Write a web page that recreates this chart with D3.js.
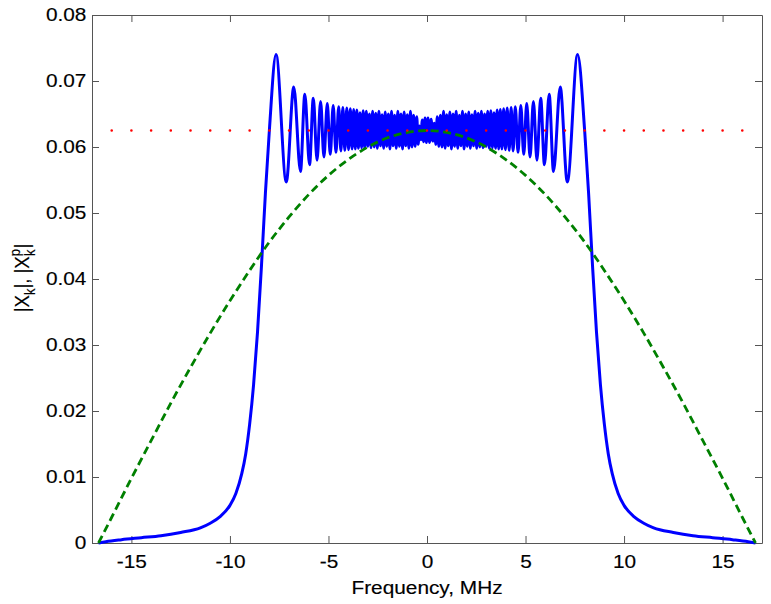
<!DOCTYPE html>
<html>
<head>
<meta charset="utf-8">
<script src="https://cdn.jsdelivr.net/npm/d3@7"></script>
<style>
  body { margin: 0; background: #fff; }
  svg { display: block; }
  text { font-family: "Liberation Sans", Arial, sans-serif; stroke: #000; stroke-width: 0.15px; }
</style>
</head>
<body>
<svg id="svg" width="771" height="604"></svg>
<script>
const xTicks = [-15, -10, -5, 0, 5, 10, 15];
const yTicks = [0, 0.01, 0.02, 0.03, 0.04, 0.05, 0.06, 0.07, 0.08];

// |X_k| (blue): tails, edges, ripple peaks/troughs
const blueFreq = [
  -16.67, -16.3, -15.5, -14.5, -13.5, -12.5, -11.5, -11.0, -10.5, -10.0,
  -9.7, -9.4, -9.2, -9.0, -8.8, -8.6, -8.4, -8.2, -8.0, -7.66,
  -7.14, -6.76, -6.42, -6.20, -5.96, -5.77, -5.58, -5.40, -5.23, -5.06,
  -4.91, -4.76, -4.62,
  -4.48, -4.37, -4.27, -4.17, -4.07, -3.98, -3.89, -3.80, -3.72, -3.64,
  -3.56, -3.48, -3.40, -3.32, -3.24, -3.16, -3.08, -3.00, -2.92, -2.84,
  -2.76, -2.68, -2.60, -2.52, -2.44, -2.36, -2.28, -2.20, -2.12, -2.04,
  -1.96, -1.88, -1.80, -1.72, -1.64, -1.56, -1.48, -1.40, -1.32, -1.24,
  -1.16, -1.08, -1.00, -0.92, -0.84, -0.76, -0.68, -0.60, -0.52, -0.45,
  -0.38, -0.31, -0.24, -0.17, -0.10, -0.03, 0.05, 0.13, 0.21, 0.29, 0.37,
  0.45, 0.52, 0.60, 0.68, 0.76, 0.84, 0.92, 1.00, 1.08, 1.16,
  1.24, 1.32, 1.40, 1.48, 1.56, 1.64, 1.72, 1.80, 1.88, 1.96,
  2.04, 2.12, 2.20, 2.28, 2.36, 2.44, 2.52, 2.60, 2.68, 2.76,
  2.84, 2.92, 3.00, 3.08, 3.16, 3.24, 3.32, 3.40, 3.48, 3.56,
  3.64, 3.72, 3.80, 3.89, 3.98, 4.07, 4.17, 4.27, 4.37, 4.48,
  4.62, 4.76, 4.91, 5.06, 5.23, 5.40, 5.58, 5.77, 5.96, 6.20,
  6.42, 6.76, 7.12, 7.64, 8.0, 8.2, 8.4, 8.6, 8.8, 9.0,
  9.2, 9.4, 9.7, 10.0, 10.5, 11.0, 11.5, 12.5, 13.5, 14.5,
  15.5, 16.3, 16.67
];
const blueMag = [
  0, 0.0002, 0.0005, 0.0008, 0.0011, 0.0016, 0.0023, 0.0030, 0.0040, 0.0057,
  0.0075, 0.0105, 0.0135, 0.0180, 0.0240, 0.0320, 0.0420, 0.0530, 0.0625, 0.0740,
  0.0547, 0.0691, 0.0563, 0.0680, 0.0573, 0.0674, 0.0580, 0.0669, 0.0585, 0.0666,
  0.0589, 0.0663, 0.0592,
  0.0661, 0.0594, 0.0660, 0.0595, 0.0659, 0.0596, 0.0658, 0.0597, 0.0657, 0.0597,
  0.0656, 0.0598, 0.0652, 0.0599, 0.0655, 0.0598, 0.0654, 0.0601, 0.0650, 0.0599,
  0.0654, 0.0600, 0.0651, 0.0598, 0.0654, 0.0602, 0.0649, 0.0598, 0.0653, 0.0601,
  0.0650, 0.0597, 0.0654, 0.0602, 0.0648, 0.0598, 0.0654, 0.0601, 0.0650, 0.0597,
  0.0653, 0.0602, 0.0649, 0.0598, 0.0654, 0.0600, 0.0648, 0.0601, 0.0646, 0.0604,
  0.0632, 0.0611, 0.0641, 0.0608, 0.0644, 0.0607, 0.0644, 0.0607, 0.0642, 0.0609, 0.0636,
  0.0604, 0.0646, 0.0601, 0.0648, 0.0600, 0.0654, 0.0598, 0.0649, 0.0602, 0.0653,
  0.0597, 0.0650, 0.0601, 0.0654, 0.0598, 0.0648, 0.0602, 0.0654, 0.0597, 0.0650,
  0.0601, 0.0653, 0.0598, 0.0649, 0.0602, 0.0654, 0.0598, 0.0651, 0.0600, 0.0654,
  0.0599, 0.0650, 0.0601, 0.0654, 0.0598, 0.0655, 0.0599, 0.0652, 0.0598, 0.0656,
  0.0597, 0.0657, 0.0597, 0.0658, 0.0596, 0.0659, 0.0595, 0.0660, 0.0594, 0.0661,
  0.0592, 0.0663, 0.0589, 0.0666, 0.0585, 0.0669, 0.0580, 0.0674, 0.0573, 0.0680,
  0.0563, 0.0691, 0.0547, 0.0740, 0.0625, 0.0530, 0.0420, 0.0320, 0.0240, 0.0180,
  0.0135, 0.0105, 0.0075, 0.0057, 0.0040, 0.0030, 0.0023, 0.0016, 0.0011, 0.0008,
  0.0005, 0.0002, 0
];

// |X_k^p| (green dashed)
const greenFreq = [
  -16.67, -16, -15, -14, -13, -12, -11, -10, -9, -8, -7, -6, -5, -4, -3, -2, -1,
  0, 1, 2, 3, 4, 5, 6, 7, 8, 9, 10, 11, 12, 13, 14, 15, 16, 16.67
];
const greenMag = [
  0, 0.0039, 0.0098, 0.0155, 0.0212, 0.0266, 0.0318, 0.0367, 0.0413, 0.0456, 0.0494,
  0.0528, 0.0557, 0.0581, 0.0600, 0.0614, 0.0622,
  0.0625, 0.0622, 0.0614, 0.0600, 0.0581, 0.0557, 0.0528, 0.0494, 0.0456, 0.0413,
  0.0367, 0.0318, 0.0266, 0.0212, 0.0155, 0.0098, 0.0039, 0
];

// red dotted level
const redFreq = [-16, 17];
const redMag = [0.0625, 0.0625];

const axisColor = "#555";
const fontSize = 18.6;
const stretch = "scale(1.12,1)";

const svg = d3.select("#svg");
const x = d3.scaleLinear().domain([-17, 17]).range([92, 762]);
const y = d3.scaleLinear().domain([0, 0.08]).range([543, 15]);

const styleAxis = g => {
  g.attr("font-family", null).attr("font-size", fontSize);
  g.select(".domain").attr("stroke", axisColor);
  g.selectAll(".tick line").attr("stroke", axisColor);
  g.selectAll(".tick text").attr("fill", "#000").attr("transform", stretch);
};

svg.append("g")
  .attr("transform", "translate(0,543)")
  .call(d3.axisBottom(x).tickValues(xTicks).tickSizeInner(-7).tickSizeOuter(0)
    .tickPadding(12).tickFormat(d => String(d)))
  .call(styleAxis);

svg.append("g")
  .attr("transform", "translate(0,15)")
  .call(d3.axisTop(x).tickValues(xTicks).tickSizeInner(-7).tickSizeOuter(0).tickFormat(""))
  .call(styleAxis);

svg.append("g")
  .attr("transform", "translate(92,0)")
  .call(d3.axisLeft(y).tickValues(yTicks).tickSizeInner(-7).tickSizeOuter(0)
    .tickPadding(5).tickFormat(d => (d === 0 ? "0" : d.toFixed(2))))
  .call(styleAxis);

svg.append("g")
  .attr("transform", "translate(762,0)")
  .call(d3.axisRight(y).tickValues(yTicks).tickSizeInner(-7).tickSizeOuter(0).tickFormat(""))
  .call(styleAxis);

const blue = blueFreq.map((f, i) => [f, blueMag[i]]);
const green = greenFreq.map((f, i) => [f, greenMag[i]]);
const red = redFreq.map((f, i) => [f, redMag[i]]);

const line = d3.line().x(d => x(d[0])).y(d => y(d[1]));

svg.append("path")
  .attr("d", line.curve(d3.curveMonotoneX)(blue))
  .attr("fill", "none")
  .attr("stroke", "#0000ff")
  .attr("stroke-width", 3)
  .attr("stroke-linejoin", "round");

svg.append("path")
  .attr("d", line.curve(d3.curveMonotoneX)(green))
  .attr("fill", "none")
  .attr("stroke", "#008000")
  .attr("stroke-width", 2.8)
  .attr("stroke-dasharray", "8 4.5");

svg.append("path")
  .attr("d", line.curve(d3.curveLinear)(red))
  .attr("fill", "none")
  .attr("stroke", "#ff0000")
  .attr("stroke-width", 2.6)
  .attr("stroke-linecap", "round")
  .attr("stroke-dasharray", `0 ${x(1) - x(0)}`);

// axis titles
svg.append("text")
  .attr("transform", `translate(${x(0)},594) ${stretch}`)
  .attr("text-anchor", "middle")
  .attr("font-size", fontSize)
  .text("Frequency, MHz");

const yl = svg.append("text")
  .attr("transform", "translate(29,278) rotate(-90) scale(1,1.12)")
  .attr("text-anchor", "middle")
  .attr("font-size", fontSize);
yl.append("tspan").text("|X");
yl.append("tspan").attr("font-size", 13).attr("dy", 5).text("k");
yl.append("tspan").attr("dy", -5).text("|, |X");
yl.append("tspan").attr("font-size", 13).attr("dy", -8).text("p");
yl.append("tspan").attr("font-size", 13).attr("dx", -7).attr("dy", 13).text("k");
yl.append("tspan").attr("dy", -5).attr("dx", 1).text("|");
</script>
</body>
</html>
